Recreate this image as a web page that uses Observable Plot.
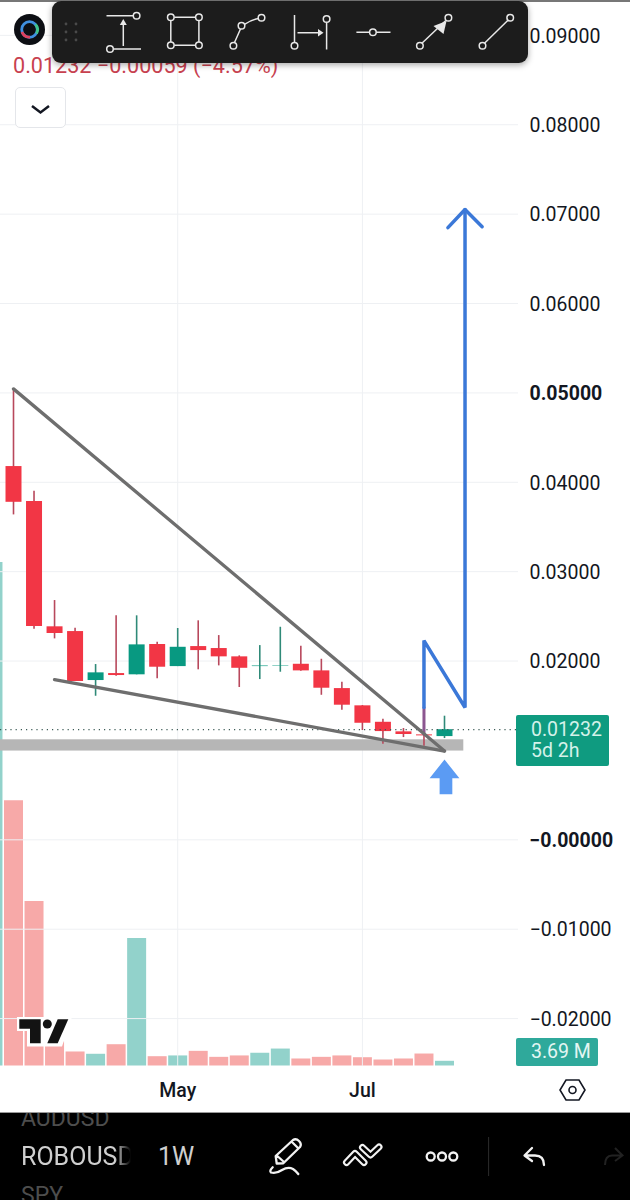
<!DOCTYPE html>
<html>
<head>
<meta charset="utf-8">
<script src="https://cdn.jsdelivr.net/npm/d3@7"></script>
<script src="https://cdn.jsdelivr.net/npm/@observablehq/plot@0.6"></script>
<style>
html,body{margin:0;padding:0;background:#fff;}
#page{position:relative;width:630px;height:1200px;overflow:hidden;font-family:Roboto,sans-serif;}
#vol,#price{position:absolute;left:0;top:0;}
.abs{position:absolute;white-space:nowrap;}
svg.chrome{position:absolute;left:0;top:0;overflow:visible;}
</style>
</head>
<body>
<div id="page">
  <div id="vol"></div>
  <div id="price"></div>

  <div class="abs" style="left:0;top:0;width:630px;height:1.5px;background:#777"></div>
  <div class="abs" style="left:13px;top:53px;font-size:21.6px;color:#c8414f">0.01232 &#8722;0.00059 (&#8722;4.57%)</div>
  <div class="abs" style="left:15px;top:87px;width:49px;height:39px;border:1px solid #e4e6ea;border-radius:5px;background:#fff"></div>
  <div class="abs" style="left:516px;top:715px;width:93px;height:51px;background:#0f9b80;border-radius:2px;color:#d4f2ea;font-size:19.5px;line-height:21px;box-sizing:border-box;padding:4px 0 0 15px">0.01232<br>5d 2h</div>
  <div class="abs" style="left:516px;top:1038px;width:82px;height:28px;background:#2fa99b;border-radius:2px;color:#e4f6f3;font-size:19.5px;line-height:28px;box-sizing:border-box;padding-left:15px">3.69 M</div>

  <div class="abs" style="left:0;top:1112px;width:630px;height:88px;background:#000;overflow:hidden;border-top:1px solid #999;box-sizing:border-box">
    <div class="abs" style="left:21px;top:-8px;font-size:23px;color:#4d4d4d">AUDUSD</div>
    <div class="abs" style="left:21px;top:29px;width:110px;overflow:hidden;font-size:25px;color:#cfcfcf;-webkit-mask-image:linear-gradient(90deg,#000 85%,transparent 100%);mask-image:linear-gradient(90deg,#000 85%,transparent 100%)">ROBOUSD</div>
    <div class="abs" style="left:158px;top:29px;font-size:25px;color:#cfcfcf">1W</div>
    <div class="abs" style="left:21px;top:69px;font-size:23px;color:#4d4d4d">SPY</div>
  </div>

  <svg class="chrome" width="630" height="1200" fill="none">
    <!-- chart chrome -->
    <circle cx="29.500" cy="29.500" r="15.500" fill="#0d0f14"/>
    <circle cx="29.500" cy="29.500" r="7.800" stroke="#3f8fe0" stroke-width="2.800"/>
    <path d="M22 32a7.800 7.800 0 0 0 8 5" stroke="#e0415f" stroke-width="2.800"/>
    <path d="M35.500 24.500a7.800 7.800 0 0 1 1 9" stroke="#3fc48b" stroke-width="2.800"/>
    <path d="M32 106l8.500 6.500 8.500-6.500" stroke="#131722" stroke-width="2.500"/>
    <!-- toolbar -->
    <defs><filter id="sh" x="-5%" y="-20%" width="110%" height="150%"><feDropShadow dx="0" dy="2" stdDeviation="3" flood-color="#000" flood-opacity=".35"/></filter></defs>
    <rect x="52" y="1" width="476" height="62" rx="9" fill="#1e1e1e" filter="url(#sh)"/>
    <g fill="#4a4a4a"><circle cx="66" cy="24" r="1.400"/><circle cx="76" cy="24" r="1.400"/><circle cx="66" cy="32" r="1.400"/><circle cx="76" cy="32" r="1.400"/><circle cx="66" cy="40" r="1.400"/><circle cx="76" cy="40" r="1.400"/></g>
    <g stroke="#e8e8e8" stroke-width="1.500">
      <path d="M106.500 15.700H133M114 49H141M123.300 46V23"/>
      <circle cx="136.600" cy="15.700" r="3.300"/><circle cx="110" cy="49" r="3.300"/>
      <path d="M119.800 25l3.500-6 3.500 6z" fill="#e8e8e8" stroke="none"/>
      <path d="M174.300 17.300H195.500M174.300 45.300H195.500M170.800 20.700V42M198.900 20.700V42"/>
      <circle cx="170.800" cy="17.300" r="3.300"/><circle cx="198.900" cy="17.300" r="3.300"/><circle cx="170.800" cy="45.300" r="3.300"/><circle cx="198.900" cy="45.300" r="3.300"/>
      <path d="M234.500 42.500L240.500 29M244.500 24.300Q251 20 258.300 18.500"/>
      <circle cx="233.400" cy="45.700" r="3.300"/><circle cx="241.500" cy="25.700" r="3.300"/><circle cx="261.500" cy="17.700" r="3.300"/>
      <path d="M294.500 15V42.300M297.500 32.700H320M326.600 22.400V49.500"/>
      <path d="M318 29l5.500 3.700-5.500 3.700z" fill="#e8e8e8" stroke="none"/>
      <circle cx="294.500" cy="45.700" r="3.300"/><circle cx="326.600" cy="19" r="3.300"/>
      <path d="M356.400 32.300H369.600M376.200 32.300H390.500"/><circle cx="372.900" cy="32.300" r="3.300"/>
      <path d="M422.200 43L445.800 20.500"/><circle cx="419.900" cy="45.700" r="3.300"/><circle cx="448.400" cy="17.700" r="3.300"/>
      <path d="M446.500 21L433.500 26l10 8z" fill="#e8e8e8" stroke="none"/>
      <path d="M484.700 43L508 20.300"/><circle cx="482.500" cy="45.700" r="3.300"/><circle cx="510.200" cy="17.700" r="3.300"/>
    </g>
    <!-- TradingView mark -->
    <g>
      <path d="M17 1017H72L62 1046.500H27V1031H17z" fill="#fff"/>
      <path d="M19.300 1019.300H40.700V1043.300H30V1028.700H19.300z" fill="#131313"/>
      <circle cx="47.300" cy="1024" r="4.500" fill="#131313"/>
      <path d="M57.700 1019.300H68.300L57.700 1043.300H47.300z" fill="#131313"/>
    </g>
    <!-- settings hexagon -->
    <path d="M566 1080H579L585 1090L579 1100H566L560 1090z" stroke="#131722" stroke-width="1.600"/>
    <circle cx="572.500" cy="1090" r="3.500" stroke="#131722" stroke-width="1.600"/>
    <!-- bottom bar icons -->
    <g stroke="#f2f2f2" stroke-width="2.300" stroke-linecap="round" stroke-linejoin="round">
      <path d="M276.700 1163.500L275.700 1156L293 1140Q296 1138 299 1141Q302 1144 300 1147L283.300 1163.300zM291.700 1141.700L298.300 1148.300M277.300 1156L284 1162"/>
      <path d="M272.700 1167.300Q269 1171 271 1172.500Q276 1174 282 1170Q288 1166.500 293 1169Q296 1171 298.300 1174"/>
      <circle cx="430.700" cy="1156.500" r="4"/><circle cx="442" cy="1156.500" r="4"/><circle cx="453.300" cy="1156.500" r="4"/>
      <path d="M532 1148L524.500 1155.500L532 1161M525 1155.500H535Q544 1155.500 544 1165"/>
    </g>
    <g stroke-linecap="round" stroke-linejoin="round">
      <path d="M346.500 1162.500L355 1153.500L364 1162.500" stroke="#f2f2f2" stroke-width="7"/>
      <path d="M346.500 1162.500L355 1153.500L364 1162.500" stroke="#000" stroke-width="2.800"/>
      <path d="M362.500 1147.500L370.500 1155L379 1147" stroke="#f2f2f2" stroke-width="7"/>
      <path d="M362.500 1147.500L370.500 1155L379 1147" stroke="#000" stroke-width="2.800"/>
    </g>
    <path d="M488.600 1137V1176" stroke="#2c2c2c"/>
    <path d="M615 1148L622.500 1155.500L615 1161M622 1155.500H612Q605 1155.500 605 1165" stroke="#222" stroke-width="2"/>
  </svg>
</div>
<script>
// Weekly bars
const weeks = ["2023-03-06","2023-03-13","2023-03-20","2023-03-27","2023-04-03","2023-04-10","2023-04-17","2023-04-24","2023-05-01","2023-05-08","2023-05-15","2023-05-22","2023-05-29","2023-06-05","2023-06-12","2023-06-19","2023-06-26","2023-07-03","2023-07-10","2023-07-17","2023-07-24","2023-07-31"];
const open  = [0.04176,0.03784,0.02383,0.02330,0.01782,0.01860,0.01846,0.02185,0.01938,0.02162,0.02140,0.02047,0.01938,0.01945,0.01964,0.01890,0.01692,0.01499,0.01315,0.01208,0.01174,0.01155];
const high  = [0.05034,0.03899,0.02677,0.02367,0.01961,0.02506,0.02506,0.02210,0.02364,0.02450,0.02285,0.02058,0.02173,0.02378,0.02166,0.02020,0.01763,0.01502,0.01349,0.01245,0.01480,0.01383];
const low   = [0.03635,0.02356,0.02248,0.01771,0.01606,0.01830,0.01846,0.01801,0.01938,0.01902,0.01946,0.01704,0.01793,0.01875,0.01887,0.01617,0.01450,0.01223,0.01069,0.01144,0.01047,0.01133];
const close = [0.03776,0.02386,0.02308,0.01771,0.01868,0.01838,0.02181,0.01931,0.02154,0.02117,0.02047,0.01919,0.01945,0.01950,0.01890,0.01696,0.01506,0.01304,0.01211,0.01178,0.01163,0.01232];

// Volume, in millions (the first bar is cut off by the left edge)
const volWeeks = ["2023-02-27", ...weeks];
const volume = [395,208,129,19,11,9.2,16.7,100,7.3,7.9,11.5,6.8,7.9,10,13.3,5.5,6.8,7.9,6.5,4.7,5.5,9.4,3.69];
const volUp  = [1,0,0,0,0,1,0,1,0,1,0,0,0,1,1,0,0,0,0,0,0,0,1];

// Axis ticks
const priceTicks = [0.09,0.08,0.07,0.06,0.04,0.03,0.02,-0.01,-0.02];
const boldTicks = [0.05,0];
const boldLabels = ["0.05000","\u22120.00000"];
const monthTicks = ["2023-05-01","2023-07-03"];
const lastPrice = 0.01232;

// Drawings on the chart
const fallTop  = {x:["2023-03-06","2023-07-31"], y:[0.05045,0.00993]};
const fallLow  = {x:["2023-03-20","2023-07-31"], y:[0.01793,0.00993]};
const bandX = ["2023-02-01","2023-08-06T14:00Z"];
const bandY = [0.00993,0.01119];
const zigX = ["2023-07-24","2023-07-24","2023-08-07","2023-08-07"];
const zigY = [0.01480,0.02229,0.01480,0.07051];
const zigTailX = ["2023-07-24","2023-07-24"];
const zigTailY = [0.01480,0.01180];
const headX = ["2023-08-01T04:00Z","2023-08-07","2023-08-12T20:00Z"];
const headY = [0.06849,0.07051,0.06860];
const upX = ["2023-07-31","2023-08-05T02:00Z","2023-08-02T16:00Z","2023-08-02T16:00Z","2023-07-29T08:00Z","2023-07-29T08:00Z","2023-07-25T22:00Z"];
const upY = [0.00898,0.00689,0.00689,0.00510,0.00510,0.00689,0.00689];

const D = s => new Date(s);
const bars = weeks.map((w,i)=>({date:D(w),open:open[i],high:high[i],low:low[i],close:close[i],dir:close[i]>=open[i]?"up":"down"}));
const vols = volWeeks.map((w,i)=>({date:D(w),v:volume[i],dir:volUp[i]?"up":"down"}));
const pts = (xs,ys)=>xs.map((x,i)=>({x:D(x),y:ys[i]}));

const xScale = {type:"utc",domain:[D(weeks[0]),D(weeks[weeks.length-1])],range:[13,444]};
const size = {width:630,height:1113,marginTop:0,marginLeft:0,marginRight:112,marginBottom:47};

document.getElementById("vol").append(Plot.plot({
  ...size,
  style:{background:"#fff"},
  x:{...xScale,axis:null},
  y:{domain:[0,395],range:[1065.5,562],axis:null},
  color:{domain:["up","down"],range:["#92d2cb","#f7a9a8"]},
  marks:[Plot.ruleX(vols,{x:"date",y1:0,y2:"v",stroke:"dir",strokeWidth:19})]
}));

document.getElementById("price").append(Plot.plot({
  ...size,
  style:{background:"transparent",fontFamily:"Roboto,sans-serif",fontSize:"19.5px",color:"#131722"},
  x:{...xScale,axis:null},
  y:{domain:[-0.02536,0.0939],range:[1066,0],axis:null},
  color:{domain:["up","down"],range:["#089981","#f23645"]},
  marks:[
    Plot.gridY([...priceTicks,...boldTicks],{stroke:"#eef0f3",strokeOpacity:1}),
    Plot.gridX(monthTicks.map(D),{stroke:"#eef0f3",strokeOpacity:1}),
    Plot.rect([0],{x1:D(bandX[0]),x2:D(bandX[1]),y1:bandY[0],y2:bandY[1],fill:"#b6b6b6"}),
    Plot.ruleX(bars,{filter:d=>d.dir==="up",x:"date",y1:"low",y2:"high",stroke:"#2f8a78",strokeWidth:1.6}),
    Plot.ruleX(bars,{filter:d=>d.dir==="down",x:"date",y1:"low",y2:"high",stroke:"#b8485c",strokeWidth:1.6}),
    Plot.ruleX(bars,{x:"date",y1:"open",y2:"close",stroke:"dir",strokeWidth:16}),
    Plot.ruleY([lastPrice],{stroke:"#3b5a55",strokeDasharray:"1.2 4",strokeWidth:1.2}),
    Plot.line(pts(zigTailX,zigTailY),{x:"x",y:"y",stroke:"#8c5690",strokeWidth:3}),
    Plot.line(pts(fallTop.x,fallTop.y),{x:"x",y:"y",stroke:"#6e6e6e",strokeWidth:3.3}),
    Plot.line(pts(fallLow.x,fallLow.y),{x:"x",y:"y",stroke:"#6e6e6e",strokeWidth:3.3}),
    Plot.line(pts(zigX,zigY),{x:"x",y:"y",stroke:"#3b78d8",strokeWidth:3.5,strokeLinejoin:"miter"}),
    Plot.line(pts(headX,headY),{x:"x",y:"y",stroke:"#3b78d8",strokeWidth:3.5,strokeLinejoin:"miter"}),
    Plot.line(pts(upX,upY),{x:"x",y:"y",fill:"#5b9bf3",stroke:"none",curve:"linear-closed"}),
    Plot.axisY(priceTicks,{anchor:"right",tickSize:0,tickPadding:11,dy:1,tickFormat:d3.format(".5f"),fontSize:19.5}),
    Plot.axisY(boldTicks,{anchor:"right",tickSize:0,tickPadding:11,dy:1,tickFormat:(d,i)=>boldLabels[i],fontSize:19.5,fontWeight:"bold"}),
    Plot.axisX(monthTicks.map(D),{anchor:"bottom",tickSize:0,tickPadding:17,tickFormat:d3.utcFormat("%b"),fontSize:19.5,fontWeight:500,label:null})
  ]
}));
</script>
</body>
</html>
